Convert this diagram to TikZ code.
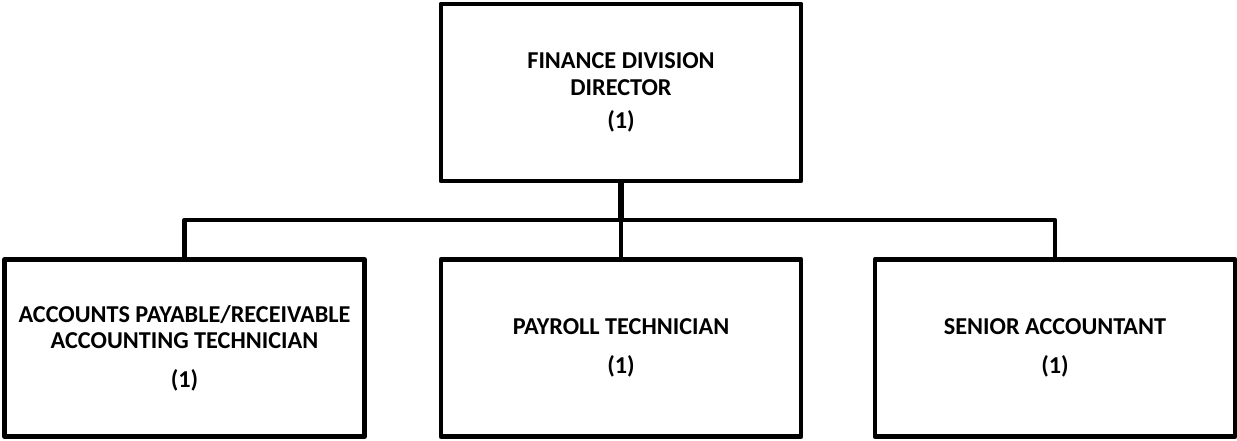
\documentclass[tikz,border=0pt]{standalone}
\usepackage{fontspec}
\setmainfont{Carlito}

\begin{document}
\begin{tikzpicture}[line join=round,
    post/.style={draw, line width=2.8pt, minimum width=7.2cm, minimum height=3.54cm,
      align=center, font=\bfseries\fontsize{13.8}{15}\selectfont},
    link/.style={line width=2.6pt}]
  \useasboundingbox (0,0) rectangle (24.74,8.8);

  \node[post] (dir) at (12.42,6.95) {FINANCE DIVISION\\DIRECTOR\\[4pt](1)};
  \node[post] (ap) at (3.69,1.84) {ACCOUNTS PAYABLE/RECEIVABLE\\ACCOUNTING TECHNICIAN\\[7pt](1)};
  \node[post] (pay) at (12.42,1.84) {PAYROLL TECHNICIAN\\[7pt](1)};
  \node[post] (sa) at (21.1,1.84) {SENIOR ACCOUNTANT\\[7pt](1)};

  \coordinate (bus) at (12.42,4.4);

  \draw[link, line width=3pt] (dir.south) -- (bus);
  \draw[link] (bus) -- (pay.north);
  \draw[link] (ap.north) |- (bus) -| (sa.north);

\end{tikzpicture}
\end{document}
